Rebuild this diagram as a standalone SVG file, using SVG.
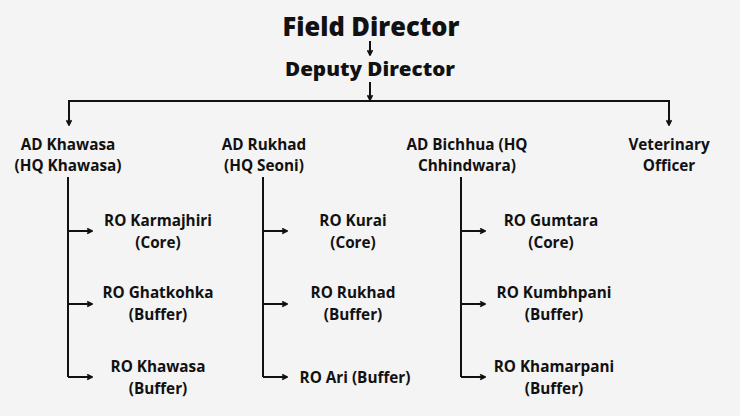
<svg xmlns="http://www.w3.org/2000/svg" width="740" height="416" viewBox="0 0 740 416">
<defs>
<style>
text{font-family:"Open Sans","Liberation Sans",sans-serif;font-weight:700;fill:#111;text-anchor:middle}
.t1{font-size:26px;font-weight:800}
.t2{font-size:20px;font-weight:800}
.n{font-size:15.3px}
.c{fill:none;stroke:#111;stroke-width:2}
.a{fill:none;stroke:#111;stroke-width:2;marker-end:url(#ah)}
</style>
<marker id="ah" viewBox="0 0 10 10" refX="8.5" refY="5" markerWidth="7" markerHeight="7" markerUnits="userSpaceOnUse" orient="auto">
<path d="M1.5,1.5 L8.5,5 L1.5,8.5" fill="none" stroke="#111" stroke-width="2.4" stroke-linejoin="miter"/>
</marker>
</defs>
<rect width="740" height="416" fill="#f4f4f4"/>
<g id="connectors">
<path class="a" d="M370,41 V55"/>
<path class="a" d="M370,82 V100"/>
<path class="c" d="M69,125 V101 H669 V125"/>
<path class="a" d="M69,101 V125"/>
<path class="a" d="M669,101 V125"/>
<path class="c" d="M68,177 V377"/>
<path class="a" d="M68,231 H92"/>
<path class="a" d="M68,304 H92"/>
<path class="a" d="M68,377 H92"/>
<path class="c" d="M263,177 V377"/>
<path class="a" d="M263,231 H287"/>
<path class="a" d="M263,304 H287"/>
<path class="a" d="M263,377 H287"/>
<path class="c" d="M461,177 V377"/>
<path class="a" d="M461,231 H485"/>
<path class="a" d="M461,304 H485"/>
<path class="a" d="M461,377 H485"/>
</g>
<g id="field-director"><text class="t1" x="371" y="36" textLength="177" lengthAdjust="spacingAndGlyphs">Field Director</text></g>
<g id="deputy-director"><text class="t2" x="370" y="76" textLength="170" lengthAdjust="spacingAndGlyphs">Deputy Director</text></g>
<g id="ad-khawasa"><text class="n" x="68" y="150">AD Khawasa</text><text class="n" x="68" y="171">(HQ Khawasa)</text></g>
<g id="ad-rukhad"><text class="n" x="264" y="150">AD Rukhad</text><text class="n" x="264" y="171">(HQ Seoni)</text></g>
<g id="ad-bichhua"><text class="n" x="467" y="150">AD Bichhua (HQ</text><text class="n" x="467" y="171">Chhindwara)</text></g>
<g id="veterinary-officer"><text class="n" x="669" y="150">Veterinary</text><text class="n" x="669" y="171">Officer</text></g>
<g id="ro-karmajhiri"><text class="n" x="158" y="226">RO Karmajhiri</text><text class="n" x="158" y="248">(Core)</text></g>
<g id="ro-ghatkohka"><text class="n" x="158" y="298">RO Ghatkohka</text><text class="n" x="158" y="320">(Buffer)</text></g>
<g id="ro-khawasa"><text class="n" x="158" y="372">RO Khawasa</text><text class="n" x="158" y="394">(Buffer)</text></g>
<g id="ro-kurai"><text class="n" x="353" y="226">RO Kurai</text><text class="n" x="353" y="248">(Core)</text></g>
<g id="ro-rukhad"><text class="n" x="353" y="298">RO Rukhad</text><text class="n" x="353" y="320">(Buffer)</text></g>
<g id="ro-ari"><text class="n" x="355" y="383">RO Ari (Buffer)</text></g>
<g id="ro-gumtara"><text class="n" x="551" y="226">RO Gumtara</text><text class="n" x="551" y="248">(Core)</text></g>
<g id="ro-kumbhpani"><text class="n" x="554" y="298">RO Kumbhpani</text><text class="n" x="554" y="320">(Buffer)</text></g>
<g id="ro-khamarpani"><text class="n" x="554" y="372">RO Khamarpani</text><text class="n" x="554" y="394">(Buffer)</text></g>
</svg>
